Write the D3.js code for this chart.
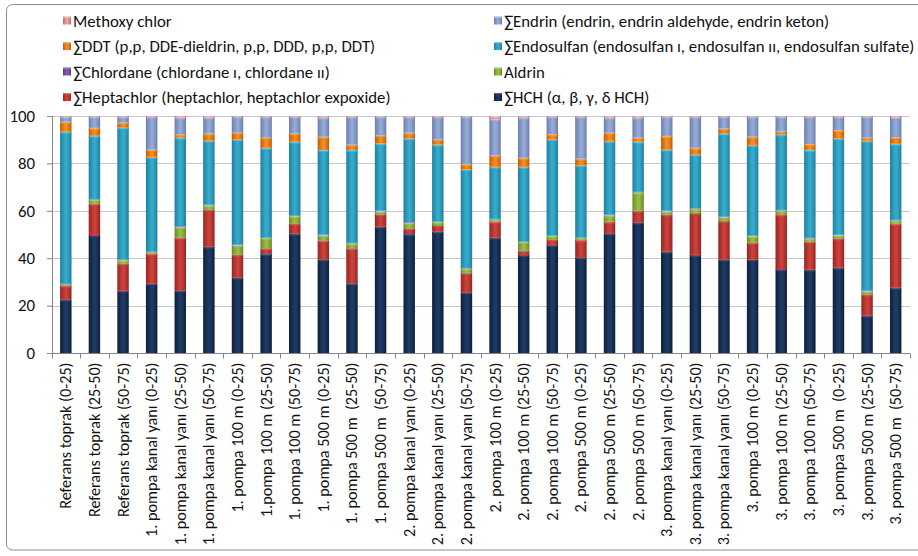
<!DOCTYPE html>
<html>
<head>
<meta charset="utf-8">
<script src="https://cdn.jsdelivr.net/npm/d3@7"></script>
<style>
  html, body { margin: 0; padding: 0; background: #fff; }
  svg { display: block; }
  text { font-family: Carlito, Calibri, "Liberation Sans Narrow", Lato, "Open Sans", sans-serif; fill: #111; }
</style>
</head>
<body>
<svg id="chart" width="918" height="556"></svg>
<script>
// Sampling sites and depths (cm)
const categories = [
  "Referans toprak (0-25)", "Referans toprak (25-50)", "Referans toprak (50-75)",
  "1. pompa kanal yanı (0-25)", "1. pompa kanal yanı (25-50)", "1. pompa kanal yanı (50-75)",
  "1. pompa 100 m (0-25)", "1.pompa 100 m (25-50)", "1. pompa 100 m (50-75)",
  "1. pompa 500 m (0-25)", "1. pompa 500 m  (25-50)", "1. pompa 500 m  (50-75)",
  "2. pompa kanal yanı (0-25)", "2. pompa kanal yanı (25-50)", "2. pompa kanal yanı (50-75)",
  "2. pompa 100 m (0-25)", "2. pompa 100 m (25-50)", "2. pompa 100 m (50-75)",
  "2. pompa 500 m (0-25)", "2. pompa 500 m (25-50)", "2. pompa 500 m (50-75)",
  "3. pompa kanal yanı (0-25)", "3. pompa kanal yanı (25-50)", "3. pompa kanal yanı (50-75)",
  "3. pompa 100 m (0-25)", "3. pompa 100 m (25-50)", "3. pompa 100 m (50-75)",
  "3. pompa 500 m  (0-25)", "3. pompa 500 m (25-50)", "3. pompa 500 m  (50-75)"
];

// Share of each pesticide group (%) per sample
const hch        = [22.6, 49.8, 26.3, 29.3, 26.4, 44.9, 31.9, 41.8, 50.4, 39.5, 29.4, 53.3, 50.2, 51.2, 25.6, 48.7, 41.4, 45.6, 40.4, 50.5, 55.1, 42.8, 41.4, 39.5, 39.5, 35.4, 35.2, 36.0, 15.8, 27.6];
const heptachlor = [5.9, 13.2, 11.5, 12.6, 22.3, 15.7, 9.7, 2.4, 4.3, 8.0, 14.8, 5.3, 2.4, 2.8, 8.2, 6.7, 1.8, 2.4, 7.3, 4.9, 5.0, 15.7, 17.8, 16.3, 7.1, 23.1, 11.8, 12.4, 9.0, 27.1];
const aldrin     = [0.5, 1.8, 1.4, 0.9, 4.6, 1.8, 4.0, 4.5, 3.2, 2.3, 2.1, 1.3, 2.4, 1.4, 1.9, 1.0, 3.8, 1.5, 1.0, 2.8, 7.7, 1.4, 1.8, 1.7, 2.8, 1.7, 1.4, 1.4, 1.4, 1.4];
const chlordane  = [0.2, 0.2, 0.2, 0.2, 0.2, 0.2, 0.2, 0.2, 0.2, 0.2, 0.2, 0.2, 0.2, 0.2, 0.2, 0.2, 0.2, 0.2, 0.2, 0.2, 0.2, 0.2, 0.2, 0.2, 0.2, 0.2, 0.2, 0.2, 0.2, 0.2];
const endosulfan = [64.2, 26.7, 55.8, 39.8, 37.4, 27.0, 44.4, 37.7, 31.1, 35.7, 39.2, 28.4, 35.4, 32.4, 41.7, 22.0, 31.4, 40.6, 30.4, 31.1, 21.2, 25.8, 22.6, 35.0, 38.2, 31.9, 37.1, 40.6, 63.2, 32.2];
const ddt        = [4.2, 3.3, 2.1, 3.1, 1.4, 3.1, 2.9, 4.4, 3.6, 5.6, 2.3, 3.5, 2.4, 2.3, 2.1, 4.9, 3.8, 2.1, 2.8, 3.6, 1.8, 5.7, 2.8, 2.1, 3.5, 1.4, 2.5, 3.5, 1.4, 2.8];
const endrin     = [2.2, 4.8, 2.5, 13.9, 7.2, 6.8, 6.7, 8.8, 7.0, 8.1, 11.8, 7.8, 6.8, 9.5, 20.1, 15.3, 17.0, 7.4, 17.7, 6.3, 8.4, 8.2, 13.2, 5.0, 8.5, 6.1, 11.6, 5.7, 8.8, 8.5];
const methoxy    = [0.2, 0.2, 0.2, 0.2, 0.5, 0.5, 0.2, 0.2, 0.2, 0.6, 0.2, 0.2, 0.2, 0.2, 0.2, 1.2, 0.6, 0.2, 0.2, 0.6, 0.6, 0.2, 0.2, 0.2, 0.2, 0.2, 0.2, 0.2, 0.2, 0.4];

// Series names, bottom of the stack first
const seriesNames = [
  "∑HCH (α, β, γ, δ HCH)",
  "∑Heptachlor (heptachlor, heptachlor expoxide)",
  "Aldrin",
  "∑Chlordane (chlordane ı, chlordane ıı)",
  "∑Endosulfan (endosulfan ı, endosulfan ıı, endosulfan sulfate)",
  "∑DDT (p,p, DDE-dieldrin, p,p, DDD, p,p, DDT)",
  "∑Endrin (endrin, endrin aldehyde, endrin keton)",
  "Methoxy chlor"
];
const seriesValues = [hch, heptachlor, aldrin, chlordane, endosulfan, ddt, endrin, methoxy];
const yTicks = [0, 20, 40, 60, 80, 100];

// Fill tones per series: [edge, centre, top highlight]
const tones = [
  ["#0d1f3a", "#1d3a63", "#5d7ea6"],
  ["#962521", "#c9403c", "#f08a82"],
  ["#6a8a26", "#97bb48", "#cfe88f"],
  ["#55397e", "#7e5fae", "#b9a2dc"],
  ["#1f7f9f", "#36a9c9", "#8ae8f8"],
  ["#c05c06", "#f28c22", "#fcc879"],
  ["#6a7fae", "#93a8d2", "#d0e0f6"],
  ["#c06a6a", "#e9a3a3", "#f8d4d4"]
];

const rows = categories.map((c, i) => {
  const r = { cat: c };
  seriesNames.forEach((s, k) => { r[s] = seriesValues[k][i]; });
  return r;
});

const svg = d3.select("#chart");
const defs = svg.append("defs");

tones.forEach((t, k) => {
  const g = defs.append("linearGradient").attr("id", "g" + k)
    .attr("x1", 0).attr("x2", 1).attr("y1", 0).attr("y2", 0);
  g.append("stop").attr("offset", "0%").attr("stop-color", t[0]);
  g.append("stop").attr("offset", "45%").attr("stop-color", t[1]);
  g.append("stop").attr("offset", "60%").attr("stop-color", t[1]);
  g.append("stop").attr("offset", "100%").attr("stop-color", t[0]);
  const h = defs.append("linearGradient").attr("id", "h" + k)
    .attr("x1", 0).attr("x2", 0).attr("y1", 0).attr("y2", 1);
  h.append("stop").attr("offset", "0%").attr("stop-color", t[2]);
  h.append("stop").attr("offset", "100%").attr("stop-color", t[1]).attr("stop-opacity", 0);
});

// Outer frame
svg.append("rect")
  .attr("x", 6.5).attr("y", 4.5).attr("width", 930).attr("height", 545.5)
  .attr("rx", 6).attr("fill", "none").attr("stroke", "#8c8c8c").attr("stroke-width", 1);

const plotLeft = 51.5, plotRight = 910, plotTop = 116, plotBottom = 353;
const fontSize = "16.8px";
const labelSize = "16.2px";

const x = d3.scaleBand().domain(categories).range([plotLeft, plotRight])
  .paddingInner(0.6).paddingOuter(0.3);
const y = d3.scaleLinear().domain([0, 1]).range([plotBottom, plotTop]);

// Horizontal gridlines
svg.append("g").selectAll("line").data(yTicks.filter(d => d > 0)).join("line")
  .attr("x1", plotLeft).attr("x2", plotRight)
  .attr("y1", d => Math.round(y(d / 100)) + 0.5).attr("y2", d => Math.round(y(d / 100)) + 0.5)
  .attr("stroke", "#c8c8c8").attr("stroke-width", 1);

// Stacked bars, normalised to 100 %
const stack = d3.stack().keys(seriesNames).offset(d3.stackOffsetExpand);
const layers = stack(rows);

const gBars = svg.append("g");
layers.forEach((layer, k) => {
  const g = gBars.append("g");
  g.selectAll("rect.seg").data(layer).join("rect").attr("class", "seg")
    .attr("x", d => x(d.data.cat))
    .attr("width", x.bandwidth())
    .attr("y", d => y(d[1]))
    .attr("height", d => Math.max(0, y(d[0]) - y(d[1])))
    .attr("fill", "url(#g" + k + ")");
  g.selectAll("rect.cap").data(layer).join("rect").attr("class", "cap")
    .attr("x", d => x(d.data.cat) + 1)
    .attr("width", x.bandwidth() - 2)
    .attr("y", d => y(d[1]))
    .attr("height", d => Math.min(3, Math.max(0, y(d[0]) - y(d[1]))))
    .attr("fill", "url(#h" + k + ")");
});

// Y axis
const yAxis = d3.axisLeft(y).tickValues(yTicks.map(d => d / 100))
  .tickFormat(d => d3.format("d")(Math.round(d * 100))).tickSize(5).tickPadding(12);
const gy = svg.append("g").attr("transform", `translate(${plotLeft + 0.5},0)`).call(yAxis);
gy.attr("font-family", null).attr("font-size", null);
gy.select(".domain").attr("stroke", "#868686");
gy.selectAll(".tick line").attr("stroke", "#868686");
gy.selectAll(".tick text").style("font-size", fontSize).attr("fill", "#111");

// X axis with ticks at category boundaries
const gx = svg.append("g").attr("transform", `translate(0,${plotBottom + 0.5})`);
gx.append("line").attr("x1", plotLeft).attr("x2", plotRight).attr("stroke", "#868686");
const bounds = d3.range(categories.length + 1).map(i => plotLeft + i * x.step());
gx.selectAll("line.t").data(bounds).join("line").attr("class", "t")
  .attr("x1", d => Math.round(d) + 0.5).attr("x2", d => Math.round(d) + 0.5)
  .attr("y1", 0).attr("y2", 5).attr("stroke", "#868686");
gx.selectAll("text").data(categories).join("text")
  .attr("transform", d => `translate(${x(d) + x.bandwidth() / 2 + 5.5},9) rotate(-90)`)
  .attr("text-anchor", "end")
  .style("font-size", labelSize)
  .style("white-space", "pre")
  .text(d => d);

// Legend, two columns in reverse series order
const legendOrder = seriesNames.map((s, k) => k).reverse();
const legend = svg.append("g");
legendOrder.forEach((k, i) => {
  const col = i % 2, row = Math.floor(i / 2);
  const lx = col === 0 ? 63 : 494;
  const ly = 21 + row * 25.5;
  legend.append("rect").attr("x", lx).attr("y", ly - 4.5).attr("width", 8).attr("height", 8)
    .attr("fill", "url(#g" + k + ")");
  legend.append("rect").attr("x", lx).attr("y", ly - 4.5).attr("width", 8).attr("height", 2.5)
    .attr("fill", "url(#h" + k + ")");
  legend.append("text").attr("x", lx + 10).attr("y", ly).attr("dy", "0.35em")
    .style("font-size", fontSize).text(seriesNames[k]);
});
</script>
</body>
</html>
